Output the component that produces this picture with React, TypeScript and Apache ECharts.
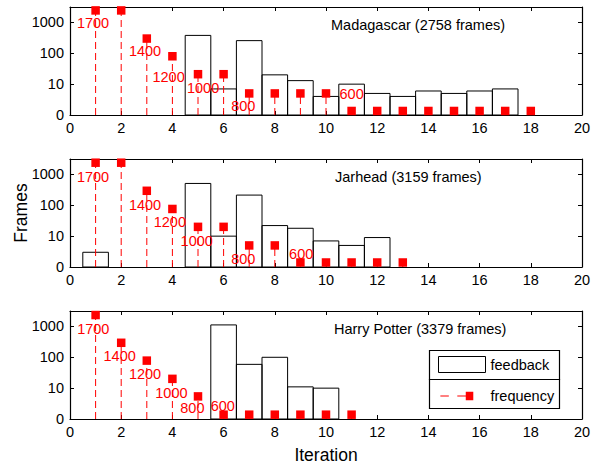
import React, { useEffect, useRef } from "react";
import * as echarts from "echarts";

// ---------- data ----------
const panelTitles = [
  "Madagascar (2758 frames)",
  "Jarhead (3159 frames)",
  "Harry Potter (3379 frames)",
];

// feedback histogram counts, index 0 = iteration 1
const feedbackMadagascar = [0, 0, 0, 0, 380, 7, 257, 20, 13, 4, 10, 5, 4, 6, 5, 6, 7];
const feedbackJarhead = [3, 0, 0, 0, 510, 10, 214, 22, 18, 7, 5, 9];
const feedbackPotter = [0, 0, 0, 0, 0, 1120, 59, 100, 11, 10];

// frequency stem values, index 0 = iteration 1
const frequencyMadagascar = [2450, 2450, 300, 80, 21, 21, 5, 5, 5, 5, 1.35, 1.35, 1.35, 1.35, 1.35, 1.35, 1.35, 1.35];
const frequencyJarhead = [2400, 2400, 295, 76, 20, 20, 5, 5, 1.4, 1.4, 1.4, 1.4, 1.4];
const frequencyPotter = [2340, 295, 78, 20, 5.4, 1.38, 1.38, 1.38, 1.38, 1.38, 1.38];

// frequency threshold annotations: text, iteration position, level (frames)
const thresholdTexts = ["1700", "1400", "1200", "1000", "800", "600"];
const thresholdXMadagascar = [0.9, 2.93, 3.85, 5.2, 6.77, 11];
const thresholdYMadagascar = [930, 115, 17, 7.4, 1.95, 4.8];
const thresholdXJarhead = [0.9, 2.93, 3.9, 4.95, 6.77, 9.03];
const thresholdYJarhead = [810, 100, 28, 7.1, 1.8, 2.6];
const thresholdXPotter = [0.91, 1.94, 2.93, 3.96, 4.78, 5.97];
const thresholdYPotter = [850, 107, 28, 7.1, 2.2, 2.6];

const yTickLabels = ["0", "10", "100", "1000"];

const panels = [
  { title: panelTitles[0], fb: feedbackMadagascar, fq: frequencyMadagascar, tx: thresholdXMadagascar, ty: thresholdYMadagascar, tl: 331 },
  { title: panelTitles[1], fb: feedbackJarhead, fq: frequencyJarhead, tx: thresholdXJarhead, ty: thresholdYJarhead, tl: 335 },
  { title: panelTitles[2], fb: feedbackPotter, fq: frequencyPotter, tx: thresholdXPotter, ty: thresholdYPotter, tl: 334 },
];

const FONT = "Liberation Sans, Arial, Helvetica, sans-serif";
const RED = "#ff0000";
const lg = (v: number) => Math.log10(v);

export default function App() {
  const ref = useRef<HTMLDivElement>(null);
  useEffect(() => {
    if (!ref.current) return;
    const chart = echarts.init(ref.current, null, { renderer: "svg" });

    const gridTops = [7, 159, 311];
    const gridH = 108;
    const grid = gridTops.map((t) => ({
      left: 70, right: 22, top: t, height: gridH,
      containLabel: false, outerBoundsMode: "none",
    }));

    const xAxis: any[] = [];
    const yAxis: any[] = [];
    const series: any[] = [];
    const title: any[] = [];

    panels.forEach((p, i) => {
      const lineStyle = { color: "#000", width: 1.2 };
      xAxis.push({
        gridIndex: i, type: "value", min: 0, max: 20, interval: 2,
        axisLine: { show: true, onZero: false, lineStyle },
        axisTick: { show: true, inside: true, length: 4, lineStyle: { color: "#000", width: 1 } },
        axisLabel: { color: "#000", fontSize: 14.5, fontFamily: FONT, margin: 5 },
        splitLine: { show: false },
        ...(i === 2
          ? { name: "Iteration", nameLocation: "middle", nameGap: 27, nameMoveOverlap: false, nameTextStyle: { fontSize: 17.5, fontFamily: FONT, color: "#000" } }
          : {}),
      });
      xAxis.push({
        gridIndex: i, type: "value", min: 0, max: 20, interval: 2, position: "top",
        axisLine: { show: true, onZero: false, lineStyle },
        axisTick: { show: true, inside: true, length: 4, lineStyle: { color: "#000", width: 1 } },
        axisLabel: { show: false }, splitLine: { show: false },
      });
      yAxis.push({
        gridIndex: i, type: "value", min: 0, max: 3.5, interval: 1,
        axisLine: { show: true, onZero: false, lineStyle },
        axisTick: { show: true, inside: true, length: 4, lineStyle: { color: "#000", width: 1 } },
        axisLabel: {
          color: "#000", fontSize: 14.5, fontFamily: FONT, margin: 6, showMaxLabel: false,
          formatter: (v: number) => (Number.isInteger(v) && v >= 0 && v <= 3 ? yTickLabels[v] : ""),
        },
        splitLine: { show: false },
        ...(i === 1
          ? { name: "Frames", nameLocation: "middle", nameGap: 40, nameRotate: 90, nameMoveOverlap: false, nameTextStyle: { fontSize: 17.5, fontFamily: FONT, color: "#000" } }
          : {}),
      });
      yAxis.push({
        gridIndex: i, type: "value", min: 0, max: 3.5, interval: 1, position: "right",
        axisLine: { show: true, onZero: false, lineStyle },
        axisTick: { show: true, inside: true, length: 4, lineStyle: { color: "#000", width: 1 } },
        axisLabel: { show: false }, splitLine: { show: false },
      });

      const xi = i * 2;
      const yi = i * 2;

      // feedback bars
      series.push({
        name: "feedback", type: "custom", xAxisIndex: xi, yAxisIndex: yi, silent: true, z: 2,
        data: p.fb.map((v, k) => [k + 1, v > 0 ? lg(v) : 0]),
        renderItem: (params: any, api: any) => {
          const x = api.value(0);
          const v = api.value(1);
          if (!(v > 0)) return null;
          const a = api.coord([x - 0.5, v]);
          const b = api.coord([x + 0.5, 0]);
          return {
            type: "rect",
            shape: { x: a[0], y: a[1], width: b[0] - a[0], height: b[1] - a[1] },
            style: { fill: "none", stroke: "#000", lineWidth: 1 },
          };
        },
      });

      // frequency stems
      series.push({
        name: "frequency", type: "custom", xAxisIndex: xi, yAxisIndex: yi, silent: true, z: 3,
        data: p.fq.map((v, k) => [k + 1, lg(v)]),
        renderItem: (params: any, api: any) => {
          const x = api.value(0);
          const v = api.value(1);
          const a = api.coord([x, 0]);
          const b = api.coord([x, v]);
          return {
            type: "line",
            shape: { x1: a[0], y1: a[1], x2: b[0], y2: b[1] },
            style: { stroke: RED, lineWidth: 1, lineDash: [7, 4] },
          };
        },
      });
      // frequency markers
      series.push({
        name: "frequency", type: "scatter", xAxisIndex: xi, yAxisIndex: yi, silent: true, z: 4,
        symbol: "rect", symbolSize: 8.5, itemStyle: { color: RED, opacity: 1 },
        data: p.fq.map((v, k) => [k + 1, lg(v)]),
      });
      // threshold labels
      series.push({
        name: "thresholds", type: "scatter", xAxisIndex: xi, yAxisIndex: yi, silent: true, z: 5,
        symbolSize: 0, itemStyle: { opacity: 1 },
        label: { show: true, position: "inside", formatter: (d: any) => d.name, color: RED, opacity: 1, fontSize: 14.5, fontFamily: FONT },
        data: thresholdTexts.map((t, k) => ({ name: t, value: [p.tx[k], lg(p.ty[k])] })),
      });

      title.push({
        text: p.title, left: p.tl, top: gridTops[i] + 10,
        textStyle: { fontSize: 14.5, fontWeight: "normal", fontFamily: FONT, color: "#000" },
        padding: 0,
      });
    });

    const freqIcon =
      "path://M1,8 L10,8 L10,9 L1,9 Z M19,8 L28,8 L28,9 L19,9 Z M28,8 L29,8 L29,9 L28,9 Z M28,4 L36,4 L36,13 L28,13 Z M0,0 L48,0 L48,0.01 L0,0.01 Z M0,17 L48,17 L48,17.01 L0,17.01 Z";

    chart.setOption({
      animation: false,
      backgroundColor: "#fff",
      title,
      grid,
      xAxis,
      yAxis,
      legend: {
        left: 438, top: 356, orient: "vertical", itemWidth: 47, itemHeight: 16, itemGap: 15,
        padding: 0, selectedMode: false,
        textStyle: { fontSize: 14.5, fontFamily: FONT, color: "#000", padding: [0, 0, 0, 0] },
        data: [
          { name: "feedback", icon: "rect", itemStyle: { color: "#fff", borderColor: "#000", borderWidth: 1 } },
          { name: "frequency", icon: freqIcon, itemStyle: { color: RED, borderWidth: 0, opacity: 1 } },
        ],
      },
      graphic: [
        { type: "rect", shape: { x: 429.5, y: 350.5, width: 130, height: 29 }, style: { fill: "none", stroke: "#000", lineWidth: 1.2 }, z: 10 },
        { type: "rect", shape: { x: 429.5, y: 379.5, width: 130, height: 29 }, style: { fill: "none", stroke: "#000", lineWidth: 1.2 }, z: 10 },
      ],
      series,
    });
    return () => chart.dispose();
  }, []);
  return (
    <div
      ref={ref}
      style={{ position: "absolute", left: 0, top: 0, width: 604, height: 470 }}
    />
  );
}
